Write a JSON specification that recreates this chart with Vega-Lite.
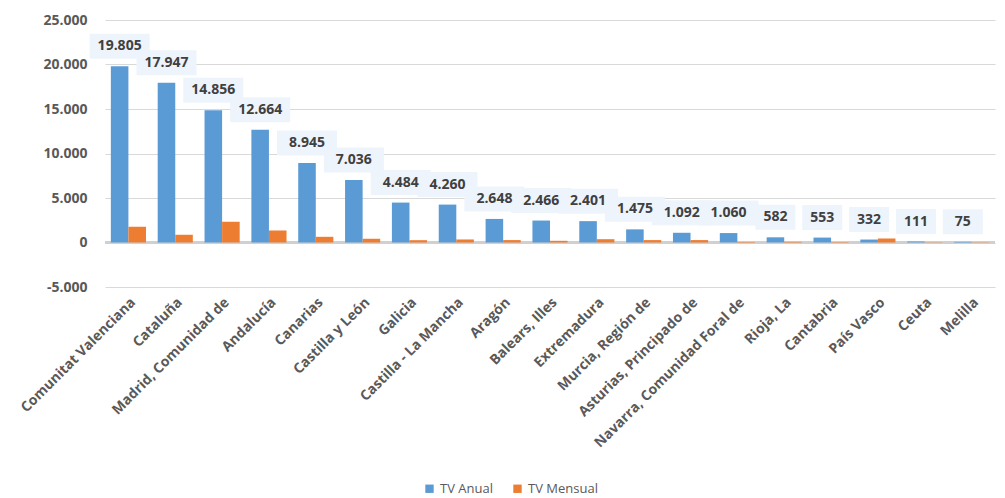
{
  "$schema": "https://vega.github.io/schema/vega-lite/v6.json",
  "width": 890,
  "height": 267,
  "autosize": "none",
  "padding": {"left": 105, "top": 20, "right": 10, "bottom": 211},
  "config": {
    "locale": {"number": {"decimal": ",", "thousands": ".", "grouping": [3], "currency": ["", " €"], "minus": "-"}},
    "view": {"stroke": null},
    "font": "Open Sans"
  },
  "data": {
    "values": [
      {"region": "Comunitat Valenciana", "TV Anual": 19805, "TV Mensual": 1770},
      {"region": "Cataluña", "TV Anual": 17947, "TV Mensual": 870},
      {"region": "Madrid, Comunidad de", "TV Anual": 14856, "TV Mensual": 2330},
      {"region": "Andalucía", "TV Anual": 12664, "TV Mensual": 1350},
      {"region": "Canarias", "TV Anual": 8945, "TV Mensual": 640},
      {"region": "Castilla y León", "TV Anual": 7036, "TV Mensual": 420},
      {"region": "Galicia", "TV Anual": 4484, "TV Mensual": 260},
      {"region": "Castilla - La Mancha", "TV Anual": 4260, "TV Mensual": 340},
      {"region": "Aragón", "TV Anual": 2648, "TV Mensual": 270},
      {"region": "Balears, Illes", "TV Anual": 2466, "TV Mensual": 190},
      {"region": "Extremadura", "TV Anual": 2401, "TV Mensual": 370},
      {"region": "Murcia, Región de", "TV Anual": 1475, "TV Mensual": 270},
      {"region": "Asturias, Principado de", "TV Anual": 1092, "TV Mensual": 270},
      {"region": "Navarra, Comunidad Foral de", "TV Anual": 1060, "TV Mensual": 60},
      {"region": "Rioja, La", "TV Anual": 582, "TV Mensual": 70},
      {"region": "Cantabria", "TV Anual": 553, "TV Mensual": 50},
      {"region": "País Vasco", "TV Anual": 332, "TV Mensual": 450},
      {"region": "Ceuta", "TV Anual": 111, "TV Mensual": 30},
      {"region": "Melilla", "TV Anual": 75, "TV Mensual": -30}
    ]
  },
  "transform": [{"fold": ["TV Anual", "TV Mensual"], "as": ["serie", "valor"]}],
  "encoding": {
    "x": {
      "field": "region", "type": "nominal", "sort": null,
      "scale": {"paddingInner": 0.25, "paddingOuter": 0.125},
      "axis": {"title": null, "labelAngle": -45, "ticks": false, "domain": false, "labelFont": "Open Sans", "labelFontWeight": "bold", "labelFontSize": 14, "labelColor": "#595959", "labelPadding": 8, "labelLimit": 300}
    },
    "xOffset": {"field": "serie", "type": "nominal", "scale": {"paddingInner": 0, "paddingOuter": 0}},
    "y": {
      "field": "valor", "type": "quantitative",
      "scale": {"domain": [-5000, 25000], "nice": false, "zero": false},
      "axis": {"title": null, "values": [-5000, 0, 5000, 10000, 15000, 20000, 25000], "format": ",d", "grid": true, "gridColor": "#D9D9D9", "domain": false, "ticks": false, "labelFont": "Open Sans", "labelFontWeight": "bold", "labelFontSize": 14, "labelColor": "#595959", "labelPadding": 18}
    }
  },
  "layer": [
    {
      "mark": {"type": "rule", "color": "#D0D0D0", "strokeWidth": 1.5},
      "encoding": {"y": {"datum": 0}, "x": null, "xOffset": null}
    },
    {
      "mark": {"type": "bar"},
      "encoding": {
        "color": {"field": "serie", "type": "nominal",
          "scale": {"domain": ["TV Anual", "TV Mensual"], "range": ["#5B9BD5", "#ED7D31"]},
          "legend": {"title": null, "orient": "none", "legendX": 318, "legendY": 462, "direction": "horizontal", "symbolType": "square", "symbolSize": 70, "labelFontSize": 13, "labelColor": "#595959", "labelFont": "Open Sans", "columnPadding": 18, "labelOffset": 4}
        }
      }
    },
    {
      "transform": [{"filter": "datum.serie == 'TV Anual' && datum.valor >= 1000"}],
      "mark": {"type": "rect", "width": 60, "height": 25, "yOffset": -20, "color": "#EEF4FB"}
    },
    {
      "transform": [{"filter": "datum.serie == 'TV Anual' && datum.valor < 1000"}],
      "mark": {"type": "rect", "width": 40, "height": 25, "yOffset": -20, "color": "#EEF4FB"}
    },
    {
      "transform": [{"filter": "datum.serie == 'TV Anual'"}],
      "mark": {"type": "text", "yOffset": -20, "font": "Open Sans", "fontWeight": "bold", "fontSize": 14, "color": "#404040", "baseline": "middle"},
      "encoding": {"text": {"field": "valor", "type": "quantitative", "format": ",d"}}
    }
  ]
}
